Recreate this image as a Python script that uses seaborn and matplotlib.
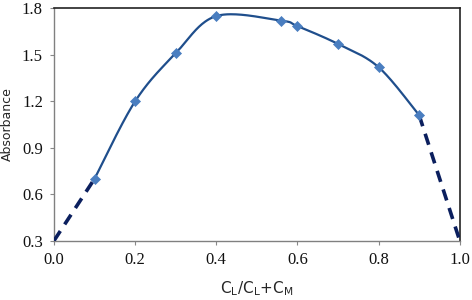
import numpy as np
import pandas as pd
import seaborn as sns
import matplotlib
matplotlib.use("Agg")
import matplotlib.pyplot as plt

# data
mole_fraction = [0.1, 0.2, 0.3, 0.4, 0.56, 0.6, 0.7, 0.8, 0.9]
absorbance = [0.70, 1.20, 1.51, 1.75, 1.72, 1.685, 1.57, 1.42, 1.11]
left_extrap_x = [0.0, 0.1]
left_extrap_y = [0.30, 0.70]
right_extrap_x = [0.9, 1.0]
right_extrap_y = [1.11, 0.30]
x_ticks = [0.0, 0.2, 0.4, 0.6, 0.8, 1.0]
y_ticks = [0.3, 0.6, 0.9, 1.2, 1.5, 1.8]

sns.set_style("white")

fig = plt.figure(figsize=(4.72, 3.0), dpi=100)
ax = fig.add_axes([0.1144, 0.1977, 0.8596, 0.7746])


def smooth(xs, ys, n=40):
    P = np.column_stack([xs, ys])
    out = []
    for i in range(len(P) - 1):
        p0 = P[i - 1] if i > 0 else P[i]
        p1, p2 = P[i], P[i + 1]
        p3 = P[i + 2] if i + 2 < len(P) else P[i + 1]
        c1 = p1 + (p2 - p0) / 6.0
        c2 = p2 - (p3 - p1) / 6.0
        t = np.linspace(0, 1, n)[:, None]
        seg = ((1 - t) ** 3) * p1 + 3 * ((1 - t) ** 2) * t * c1 + 3 * (1 - t) * t ** 2 * c2 + t ** 3 * p2
        out.append(seg if i == 0 else seg[1:])
    s = np.vstack(out)
    return s[:, 0], s[:, 1]


sx, sy = smooth(mole_fraction, absorbance)
ax.plot(sx, sy, color="#1F4E8C", lw=1.6, zorder=2)

sns.lineplot(x=left_extrap_x, y=left_extrap_y, ax=ax, color="#0B1F5E", lw=2.6,
             linestyle=(0, (3.2, 2.2)), zorder=3)
sns.lineplot(x=right_extrap_x, y=right_extrap_y, ax=ax, color="#0B1F5E", lw=2.6,
             linestyle=(0, (3.2, 2.2)), zorder=3)
sns.scatterplot(x=mole_fraction, y=absorbance, ax=ax, marker="D", s=26,
                color="#4A7EC0", edgecolor="#4A7EC0", linewidth=0.5, zorder=4)

ax.set_xlim(0, 1.0)
ax.set_ylim(0.3, 1.8)
ax.set_xticks(x_ticks)
ax.set_yticks(y_ticks)
ax.set_xticklabels([f"{v:.1f}" for v in x_ticks])
ax.set_yticklabels([f"{v:.1f}" for v in y_ticks])
for lab in ax.get_xticklabels() + ax.get_yticklabels():
    lab.set_fontfamily("Liberation Serif")
    lab.set_fontsize(12)
    lab.set_color("#111111")
ax.tick_params(axis="both", which="both", direction="out", length=3, width=0.8,
               color="#888888", pad=5, left=True, bottom=True)

for side in ["left", "bottom"]:
    ax.spines[side].set_color("#808080")
    ax.spines[side].set_linewidth(1.0)
for side in ["top", "right"]:
    ax.spines[side].set_color("#222222")
    ax.spines[side].set_linewidth(1.2)

ax.set_xlabel(r"C$_\mathregular{L}$/C$_\mathregular{L}$+C$_\mathregular{M}$",
              fontsize=11, family="DejaVu Sans", labelpad=8)
ax.set_ylabel("Absorbance", fontsize=9, family="DejaVu Sans", labelpad=6)

fig.savefig("out.png", dpi=100)
